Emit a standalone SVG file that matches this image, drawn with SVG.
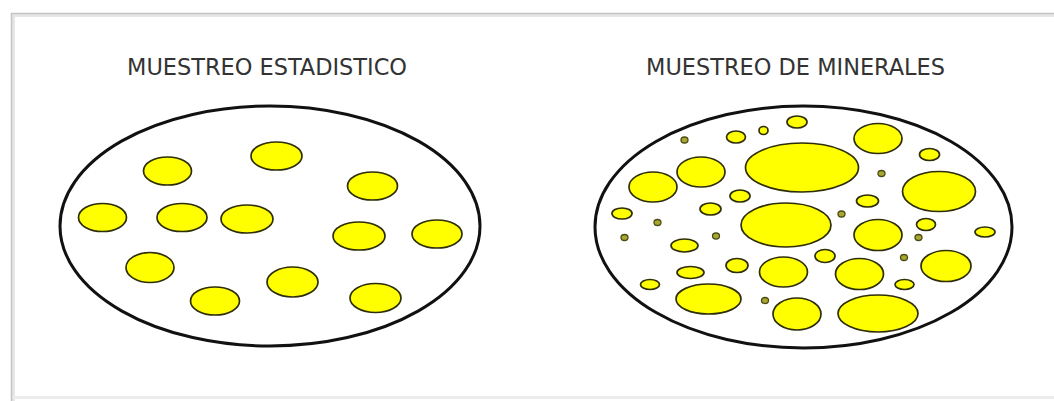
<svg xmlns="http://www.w3.org/2000/svg" width="1054" height="401" viewBox="0 0 1054 401">
<style>
.t{font-family:"DejaVu Sans Condensed","DejaVu Sans","Liberation Sans",sans-serif;font-size:23px;fill:#333}
.big{fill:#fff;stroke:#111;stroke-width:3}
.y{fill:#ffff00;stroke:#2e2e08;stroke-width:1.7}
.d{fill:#a8a830;stroke:#4a4a14;stroke-width:1.3}
</style>
<rect width="1054" height="401" fill="#fff"/>
<g id="frame" fill="none">
<path d="M13 401 V15 H1054" stroke="#e6e6e6" stroke-width="4"/>
<path d="M11.5 401 V13.5 H1054" stroke="#c4c4c4" stroke-width="1.5"/>
<path d="M13 397.5 H1054" stroke="#ececec" stroke-width="3"/>
</g>
<g id="label-left"><text class="t" x="127" y="75" textLength="280" lengthAdjust="spacingAndGlyphs">MUESTREO ESTADISTICO</text></g>
<g id="label-right"><text class="t" x="646" y="75" textLength="299" lengthAdjust="spacingAndGlyphs">MUESTREO DE MINERALES</text></g>
<g id="statistical">
<ellipse class="big" cx="270" cy="226" rx="210" ry="120"/>
<ellipse class="y" cx="167.5" cy="171" rx="24" ry="14"/>
<ellipse class="y" cx="276.5" cy="156" rx="25.5" ry="14"/>
<ellipse class="y" cx="372.5" cy="186" rx="25" ry="14"/>
<ellipse class="y" cx="102.5" cy="217.5" rx="24" ry="14"/>
<ellipse class="y" cx="182" cy="217.5" rx="25" ry="14"/>
<ellipse class="y" cx="247" cy="219" rx="26" ry="14"/>
<ellipse class="y" cx="359" cy="236" rx="26" ry="14"/>
<ellipse class="y" cx="437" cy="234" rx="25" ry="14"/>
<ellipse class="y" cx="150" cy="267.5" rx="24" ry="15"/>
<ellipse class="y" cx="215" cy="301" rx="24.5" ry="14"/>
<ellipse class="y" cx="292.5" cy="282" rx="25.5" ry="15"/>
<ellipse class="y" cx="375.5" cy="298" rx="25.5" ry="14.5"/>
</g>
<g id="minerals">
<ellipse class="big" cx="803.5" cy="227" rx="208.5" ry="121"/>
<ellipse class="y" cx="797" cy="122" rx="10" ry="6"/>
<ellipse class="y" cx="736" cy="137" rx="9.5" ry="6"/>
<ellipse class="y" cx="763.5" cy="130.5" rx="4.5" ry="4"/>
<ellipse class="d" cx="684.5" cy="140" rx="3.5" ry="3"/>
<ellipse class="y" cx="878" cy="138.5" rx="24" ry="15"/>
<ellipse class="y" cx="929.5" cy="154.5" rx="10" ry="6"/>
<ellipse class="y" cx="802" cy="167.5" rx="56.5" ry="24.5"/>
<ellipse class="y" cx="701" cy="172" rx="24" ry="15"/>
<ellipse class="y" cx="653" cy="187" rx="24" ry="15"/>
<ellipse class="d" cx="881.5" cy="173.5" rx="3.5" ry="3"/>
<ellipse class="y" cx="939" cy="191.5" rx="36.5" ry="20"/>
<ellipse class="y" cx="740" cy="196" rx="10" ry="6"/>
<ellipse class="y" cx="867.5" cy="201" rx="11" ry="6"/>
<ellipse class="y" cx="710.5" cy="209" rx="10.5" ry="6"/>
<ellipse class="y" cx="622" cy="213.5" rx="10" ry="5.5"/>
<ellipse class="y" cx="786" cy="225" rx="45" ry="22"/>
<ellipse class="d" cx="841.5" cy="214" rx="3.5" ry="3"/>
<ellipse class="d" cx="657.5" cy="222.5" rx="3.5" ry="3"/>
<ellipse class="d" cx="624.5" cy="237.5" rx="3.5" ry="3"/>
<ellipse class="d" cx="716" cy="236" rx="3.5" ry="3"/>
<ellipse class="y" cx="684.5" cy="245.5" rx="13.5" ry="6.5"/>
<ellipse class="y" cx="878" cy="235" rx="24" ry="15.5"/>
<ellipse class="y" cx="926" cy="224.5" rx="9.5" ry="6"/>
<ellipse class="d" cx="918.5" cy="237.5" rx="3.5" ry="3"/>
<ellipse class="y" cx="985" cy="232" rx="10" ry="5"/>
<ellipse class="y" cx="825" cy="256" rx="10" ry="6.5"/>
<ellipse class="d" cx="904" cy="257.5" rx="3.5" ry="3"/>
<ellipse class="y" cx="737" cy="265.5" rx="11" ry="7"/>
<ellipse class="y" cx="783.5" cy="272" rx="24" ry="15"/>
<ellipse class="y" cx="859.5" cy="274" rx="24" ry="15.5"/>
<ellipse class="y" cx="946" cy="266" rx="25" ry="15.5"/>
<ellipse class="y" cx="690.5" cy="272.5" rx="13.5" ry="6"/>
<ellipse class="y" cx="650" cy="284.5" rx="9.5" ry="5"/>
<ellipse class="y" cx="904.5" cy="284.5" rx="9.5" ry="5"/>
<ellipse class="y" cx="708.5" cy="299" rx="32.5" ry="15"/>
<ellipse class="d" cx="765" cy="300.5" rx="3.5" ry="3"/>
<ellipse class="y" cx="797" cy="314" rx="24" ry="16"/>
<ellipse class="y" cx="878" cy="313.5" rx="40" ry="18.5"/>
</g>
</svg>
